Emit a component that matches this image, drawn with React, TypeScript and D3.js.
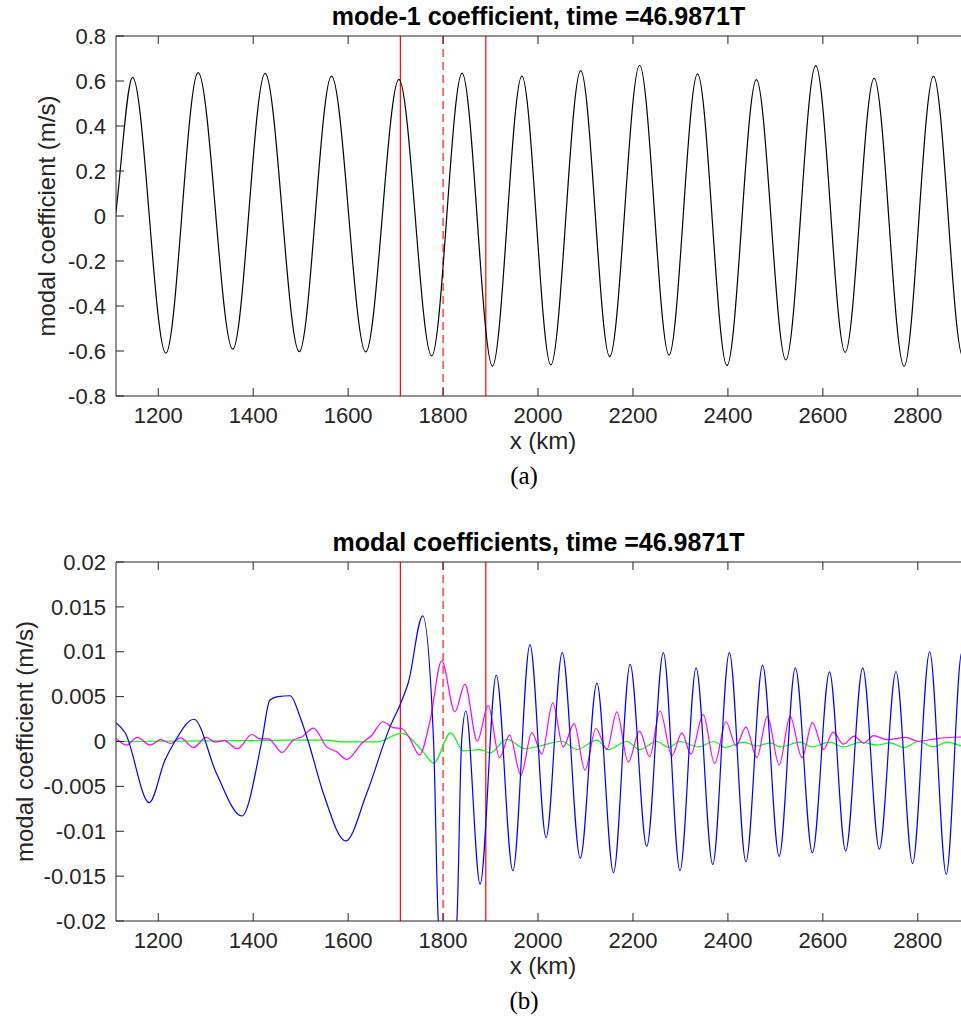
import React from "react";
import * as d3 from "d3";

// ---------- data (x in km) ----------
const xTicks = [1200, 1400, 1600, 1800, 2000, 2200, 2400, 2600, 2800];
const topYTicks = [-0.8, -0.6, -0.4, -0.2, 0, 0.2, 0.4, 0.6, 0.8];
const botYTicks = [-0.02, -0.015, -0.01, -0.005, 0, 0.005, 0.01, 0.015, 0.02];
const markerLines = [1710, 1890];
const centerLine = 1800;

// mode-1 coefficient (m/s): extrema
const mode1X = [1076, 1111, 1146, 1216, 1284, 1357, 1425, 1497, 1565, 1637, 1707, 1776, 1840, 1904, 1966, 2027, 2090, 2151, 2214, 2276, 2336, 2398, 2460, 2522, 2585, 2647, 2708, 2771, 2833, 2895, 2958];
const mode1Y = [-0.6, 0.02, 0.616, -0.61, 0.637, -0.592, 0.634, -0.603, 0.622, -0.604, 0.607, -0.622, 0.635, -0.667, 0.622, -0.662, 0.646, -0.625, 0.67, -0.618, 0.632, -0.665, 0.606, -0.64, 0.668, -0.606, 0.613, -0.668, 0.622, -0.625, 0.6];

// mode 2 (blue), values in 1e-3 m/s
const blueX = [1111, 1130, 1181, 1214, 1235, 1275, 1323, 1376, 1418, 1435, 1452, 1478, 1499, 1516, 1548, 1595, 1639, 1688, 1711, 1727, 1757, 1780, 1790, 1810, 1829, 1839, 1848, 1878, 1912, 1947, 1983, 2017, 2051, 2089, 2124, 2159, 2194, 2229, 2264, 2299, 2333, 2368, 2403, 2438, 2473, 2508, 2542, 2578, 2614, 2648, 2684, 2719, 2754, 2789, 2825, 2860, 2893, 2930];
const blueY = [2.1, 1.0, -6.8, -2.1, 0.0, 2.48, -3.6, -8.3, 0.0, 4.6, 5.0, 5.1, 2.7, 0.0, -5.8, -11.07, -5.8, 1.6, 4.3, 6.6, 14.0, 0.0, -20, -27, -20, 0.0, 3.4, -15.9, 7.4, -14.4, 10.8, -10.7, 9.9, -13.0, 6.5, -14.6, 8.6, -11.7, 9.9, -14.4, 8.2, -13.7, 9.9, -13.4, 8.5, -12.8, 8.2, -12.4, 7.75, -12.2, 8.2, -12.0, 7.8, -13.6, 10.0, -14.8, 10.0, -14.0];

// mode 3 (magenta), values in 1e-3 m/s
const magX = [1111, 1133, 1156, 1183, 1205, 1226, 1247, 1274, 1301, 1320, 1339, 1367, 1397, 1415, 1432, 1461, 1484, 1502, 1527, 1555, 1576, 1597, 1629, 1650, 1673, 1695, 1713, 1730, 1750, 1773, 1797, 1825, 1846, 1872, 1895, 1919, 1940, 1964, 1987, 2008, 2031, 2053, 2076, 2099, 2122, 2145, 2166, 2190, 2214, 2235, 2257, 2282, 2303, 2322, 2348, 2372, 2396, 2417, 2438, 2461, 2483, 2508, 2531, 2556, 2578, 2601, 2622, 2643, 2666, 2686, 2707, 2735, 2774, 2802, 2840, 2891];
const magY = [0.33, -0.4, 0.45, -0.4, 0.22, -0.22, 0.4, -0.67, 0.45, -0.08, 0.1, -0.82, 0.78, 0.3, 0.3, -1.22, 0.15, 0.5, 1.5, -0.6, -1.15, -2.0, -0.2, 0.7, 2.2, 1.55, 1.45, 0.33, -1.5, 2.4, 9.0, 3.3, 6.4, 0.03, 4.0, -1.8, 0.7, -3.75, 1.0, -1.4, 4.3, -0.6, 2.0, -3.2, 1.45, -0.9, 3.3, -2.3, 1.15, -1.7, 3.4, -1.6, 0.96, -1.4, 3.0, -2.45, 2.2, -0.5, 1.6, -1.8, 2.8, -2.6, 2.8, -1.8, 2.1, -0.9, 1.04, -0.3, 0.6, -0.2, 0.66, 0.2, 0.45, 0.03, 0.33, 0.5];

// mode 4 (green), values in 1e-3 m/s
const greenX = [1111, 1400, 1470, 1550, 1597, 1660, 1713, 1758, 1780, 1816, 1843, 1878, 1899, 1934, 1973, 2004, 2050, 2082, 2124, 2148, 2187, 2214, 2250, 2275, 2299, 2338, 2370, 2394, 2433, 2461, 2489, 2510, 2552, 2577, 2615, 2642, 2682, 2714, 2742, 2771, 2802, 2833, 2862, 2891];
const greenY = [0.0, 0.1, 0.15, 0.15, -0.05, -0.05, 0.9, -1.15, -2.4, 0.96, -1.05, -0.9, -1.27, 0.25, -0.8, -0.5, 0.03, -0.9, 0.15, -0.9, 0.0, -0.9, 0.0, -0.65, 0.0, -0.6, 0.0, -0.67, -0.07, -0.5, -0.15, -0.6, -0.07, -0.6, -0.07, -0.6, -0.07, -0.4, -0.15, -0.67, 0.0, -0.6, -0.07, -0.5];

// ---------- layout ----------
const W = 961;
const H = 1022;
const LEFT = 116;
const RIGHT = 961;
const FONT = "'Liberation Sans', Arial, Helvetica, sans-serif";
const AX = "#262626";

type Series = { xs: number[]; ys: number[]; color: string; scale: number };

function Panel(props: {
  id: string;
  top: number;
  bottom: number;
  yDomain: [number, number];
  yTicks: number[];
  title: string;
  series: Series[];
  yLabelX: number;
  caption: string;
}) {
  const { id, top, bottom, yDomain, yTicks, title, series, yLabelX, caption } = props;
  const x = d3.scaleLinear().domain([1111, 2891]).range([LEFT, RIGHT]);
  const y = d3.scaleLinear().domain(yDomain).range([bottom, top]);
  const tickLen = 8;
  const fmt = (v: number) => {
    if (Math.abs(v) < 1e-12) return "0";
    return String(+v.toFixed(4));
  };
  const lines = series.map((s) => {
    const pts = s.xs.map((xv, i) => [xv, s.ys[i] * s.scale] as [number, number]);
    const gen = d3
      .line<[number, number]>()
      .x((d) => x(d[0]))
      .y((d) => y(d[1]))
      .curve(d3.curveMonotoneX);
    return { d: gen(pts) || "", color: s.color };
  });
  const midX = (LEFT + RIGHT) / 2;
  return (
    <g>
      <defs>
        <clipPath id={id}>
          <rect x={LEFT} y={top} width={RIGHT - LEFT} height={bottom - top} />
        </clipPath>
      </defs>
      <g clipPath={`url(#${id})`}>
        {markerLines.map((m) => (
          <line key={m} x1={x(m)} x2={x(m)} y1={top} y2={bottom} stroke="#ff0000" strokeWidth={1.2} />
        ))}
        <line x1={x(centerLine)} x2={x(centerLine)} y1={top} y2={bottom} stroke="#ff0000" strokeWidth={1.1} strokeDasharray="8,5" />
        {lines.map((l, i) => (
          <path key={i} d={l.d} fill="none" stroke={l.color} strokeWidth={1.2} />
        ))}
      </g>
      {/* axes box */}
      <line x1={LEFT} x2={RIGHT} y1={top} y2={top} stroke={AX} strokeWidth={1} />
      <line x1={LEFT} x2={RIGHT} y1={bottom} y2={bottom} stroke={AX} strokeWidth={1} />
      <line x1={LEFT} x2={LEFT} y1={top} y2={bottom} stroke={AX} strokeWidth={1} />
      {xTicks.map((t) => (
        <g key={t}>
          <line x1={x(t)} x2={x(t)} y1={bottom} y2={bottom - tickLen} stroke={AX} />
          <line x1={x(t)} x2={x(t)} y1={top} y2={top + tickLen} stroke={AX} />
          <text x={x(t)} y={bottom + 27} textAnchor="middle" fontFamily={FONT} fontSize={22} fill={AX}>
            {t}
          </text>
        </g>
      ))}
      {yTicks.map((t) => (
        <g key={t}>
          <line x1={LEFT} x2={LEFT + tickLen} y1={y(t)} y2={y(t)} stroke={AX} />
          <text x={LEFT - 10} y={y(t)} dy="0.35em" textAnchor="end" fontFamily={FONT} fontSize={22} fill={AX}>
            {fmt(t)}
          </text>
        </g>
      ))}
      <text x={midX} y={top - 11} textAnchor="middle" fontFamily={FONT} fontSize={25} fontWeight="bold" fill="#000">
        {title}
      </text>
      <text x={543} y={bottom + 53} textAnchor="middle" fontFamily={FONT} fontSize={24} fill={AX}>
        x (km)
      </text>
      <text
        transform={`translate(${yLabelX},${(top + bottom) / 2}) rotate(-90)`}
        textAnchor="middle"
        fontFamily={FONT}
        fontSize={24}
        fill={AX}
      >
        modal coefficient (m/s)
      </text>
      <text x={524} y={bottom + 88} textAnchor="middle" fontFamily="'Liberation Serif', 'DejaVu Serif', serif" fontSize={25} fill="#000">
        {caption}
      </text>
    </g>
  );
}

export default function App() {
  return (
    <svg
      width={W}
      height={H}
      style={{ position: "absolute", left: 0, top: 0, display: "block", background: "#fff" }}
    >
      <rect x={0} y={0} width={W} height={H} fill="#fff" />
      <Panel
        id="clipA"
        top={36}
        bottom={396}
        yDomain={[-0.8, 0.8]}
        yTicks={topYTicks}
        title="mode-1 coefficient, time =46.9871T"
        series={[{ xs: mode1X, ys: mode1Y, color: "#000000", scale: 1 }]}
        yLabelX={55}
        caption="(a)"
      />
      <Panel
        id="clipB"
        top={562}
        bottom={921}
        yDomain={[-0.02, 0.02]}
        yTicks={botYTicks}
        title="modal coefficients, time =46.9871T"
        series={[
          { xs: greenX, ys: greenY, color: "#00ff00", scale: 0.001 },
          { xs: magX, ys: magY, color: "#ff00ff", scale: 0.001 },
          { xs: blueX, ys: blueY, color: "#0000ff", scale: 0.001 },
        ]}
        yLabelX={33}
        caption="(b)"
      />
    </svg>
  );
}
